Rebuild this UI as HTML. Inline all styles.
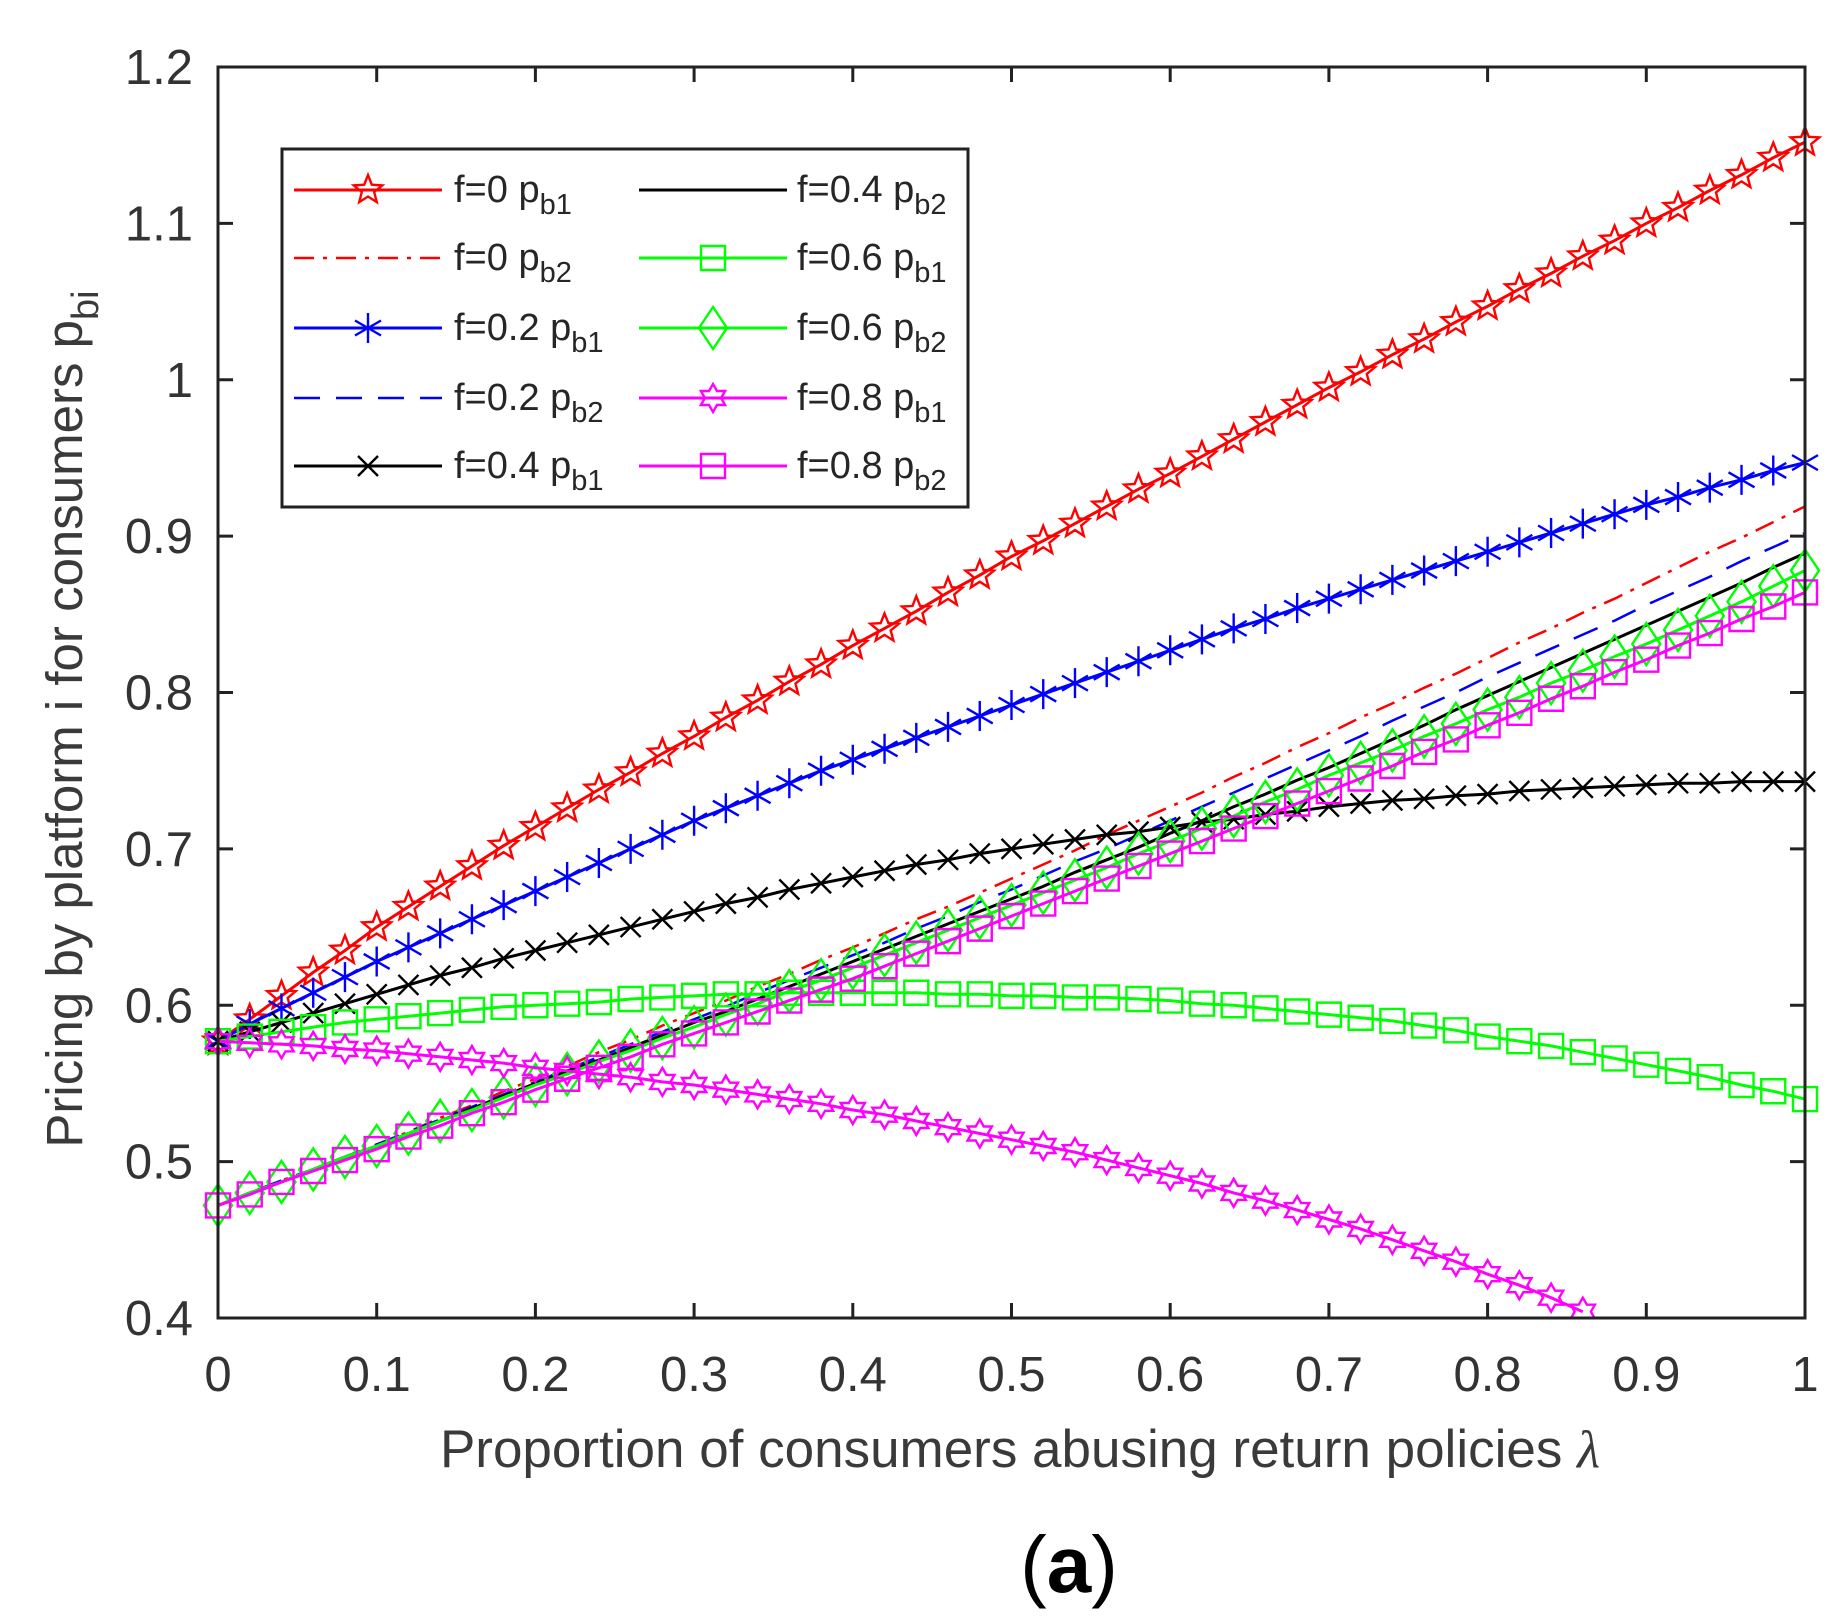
<!DOCTYPE html>
<html><head><meta charset="utf-8">
<style>
html,body{margin:0;padding:0;background:#fff;}
svg{display:block;}
text{font-family:"Liberation Sans",Arial,sans-serif;}
</style></head>
<body>
<svg id="chart" width="1844" height="1622" viewBox="0 0 1844 1622" xmlns="http://www.w3.org/2000/svg">
<g id="gridlayer"></g>
<g id="series"></g>
<g id="axes"></g>
<g id="legend"></g>
<text transform="translate(82,719) rotate(-90)" text-anchor="middle" font-size="51" fill="#3a3a3a">Pricing by platform i for consumers p<tspan font-size="38" dy="16">bi</tspan></text>
<text x="1020" y="1467" text-anchor="middle" font-size="53" fill="#3a3a3a">Proportion of consumers abusing return policies <tspan font-family="Liberation Serif,serif" font-style="italic">λ</tspan></text>
<text x="1069" y="1592" text-anchor="middle" font-size="80" font-family="Liberation Serif,serif" fill="#000">(<tspan font-weight="bold">a</tspan>)</text>
</svg>
<script>
const xTicks=[0,0.1,0.2,0.3,0.4,0.5,0.6,0.7,0.8,0.9,1];
const xTickLabels=["0","0.1","0.2","0.3","0.4","0.5","0.6","0.7","0.8","0.9","1"];
const yTicks=[0.4,0.5,0.6,0.7,0.8,0.9,1,1.1,1.2];
const yTickLabels=["0.4","0.5","0.6","0.7","0.8","0.9","1","1.1","1.2"];
const lambdaStep=0.02;
const f0_pb1=[0.577,0.591,0.606,0.621,0.635,0.650,0.663,0.676,0.689,0.702,0.714,0.726,0.738,0.749,0.761,0.772,0.784,0.795,0.807,0.818,0.830,0.841,0.852,0.864,0.875,0.887,0.897,0.908,0.919,0.930,0.940,0.951,0.962,0.973,0.984,0.995,1.005,1.016,1.026,1.037,1.047,1.058,1.068,1.079,1.089,1.100,1.110,1.121,1.131,1.142,1.152];
const f0_pb2=[0.472,0.480,0.488,0.495,0.503,0.511,0.519,0.528,0.536,0.545,0.553,0.561,0.570,0.578,0.587,0.595,0.603,0.612,0.620,0.629,0.637,0.646,0.655,0.663,0.672,0.681,0.690,0.699,0.709,0.718,0.727,0.736,0.746,0.755,0.765,0.774,0.784,0.793,0.803,0.812,0.822,0.832,0.841,0.851,0.860,0.870,0.880,0.890,0.899,0.909,0.919];
const f02_pb1=[0.577,0.588,0.598,0.608,0.618,0.628,0.637,0.646,0.655,0.664,0.673,0.682,0.691,0.700,0.709,0.718,0.726,0.734,0.742,0.750,0.757,0.764,0.771,0.778,0.785,0.792,0.799,0.806,0.813,0.820,0.827,0.834,0.841,0.847,0.854,0.860,0.866,0.872,0.878,0.884,0.890,0.896,0.902,0.908,0.914,0.920,0.925,0.931,0.936,0.942,0.947];
const f02_pb2=[0.472,0.480,0.488,0.495,0.503,0.511,0.519,0.527,0.535,0.543,0.551,0.559,0.567,0.575,0.583,0.591,0.599,0.608,0.616,0.624,0.632,0.640,0.649,0.657,0.666,0.674,0.683,0.692,0.700,0.709,0.718,0.727,0.736,0.745,0.754,0.763,0.772,0.782,0.791,0.800,0.810,0.819,0.828,0.837,0.846,0.856,0.865,0.874,0.884,0.893,0.902];
const f04_pb1=[0.577,0.583,0.589,0.595,0.601,0.607,0.613,0.619,0.624,0.630,0.635,0.640,0.645,0.650,0.655,0.660,0.665,0.669,0.674,0.678,0.682,0.686,0.690,0.693,0.697,0.700,0.703,0.706,0.709,0.711,0.714,0.717,0.719,0.722,0.724,0.727,0.729,0.731,0.732,0.734,0.735,0.737,0.738,0.739,0.740,0.741,0.742,0.742,0.743,0.743,0.743];
const f04_pb2=[0.472,0.480,0.487,0.495,0.503,0.510,0.518,0.526,0.534,0.542,0.550,0.558,0.565,0.573,0.581,0.589,0.596,0.604,0.612,0.620,0.628,0.636,0.644,0.652,0.660,0.668,0.676,0.685,0.693,0.701,0.710,0.718,0.727,0.735,0.744,0.752,0.761,0.770,0.779,0.789,0.798,0.807,0.816,0.825,0.834,0.843,0.852,0.861,0.870,0.880,0.889];
const f06_pb1=[0.577,0.580,0.583,0.586,0.589,0.591,0.593,0.595,0.597,0.599,0.600,0.601,0.602,0.604,0.605,0.606,0.607,0.607,0.608,0.608,0.608,0.608,0.608,0.607,0.607,0.606,0.606,0.605,0.605,0.604,0.603,0.601,0.600,0.598,0.596,0.594,0.592,0.590,0.587,0.584,0.580,0.577,0.574,0.570,0.566,0.562,0.558,0.554,0.549,0.545,0.540];
const f06_pb2=[0.472,0.480,0.487,0.495,0.503,0.510,0.518,0.526,0.533,0.541,0.549,0.556,0.564,0.571,0.579,0.586,0.594,0.601,0.609,0.616,0.624,0.632,0.640,0.648,0.656,0.664,0.672,0.680,0.688,0.697,0.705,0.713,0.721,0.730,0.738,0.747,0.755,0.763,0.772,0.780,0.789,0.797,0.806,0.814,0.823,0.831,0.840,0.849,0.858,0.868,0.878];
const f08_pb1=[0.577,0.576,0.575,0.574,0.572,0.571,0.569,0.567,0.565,0.563,0.560,0.558,0.556,0.554,0.551,0.549,0.546,0.543,0.540,0.537,0.533,0.530,0.526,0.522,0.518,0.514,0.510,0.506,0.501,0.496,0.491,0.486,0.480,0.475,0.469,0.463,0.457,0.450,0.443,0.436,0.428,0.421,0.413,0.404];
const f08_pb2=[0.472,0.479,0.487,0.494,0.501,0.508,0.516,0.523,0.531,0.538,0.546,0.553,0.560,0.567,0.575,0.582,0.589,0.596,0.603,0.610,0.617,0.625,0.633,0.641,0.649,0.657,0.665,0.673,0.681,0.689,0.697,0.705,0.713,0.721,0.729,0.737,0.745,0.753,0.762,0.770,0.779,0.787,0.796,0.804,0.813,0.821,0.830,0.838,0.847,0.855,0.864];

const NS="http://www.w3.org/2000/svg";
const L=218,R=1805,T=67,B=1318;
const xS=v=>L+(R-L)*v;
const yS=v=>B-(B-T)*(v-0.4)/0.8;
function mk(tag,attrs,parent){const e=document.createElementNS(NS,tag);for(const k in attrs)e.setAttribute(k,attrs[k]);parent.appendChild(e);return e;}

const seriesDefs=[
 {name:"f0-pb1",data:f0_pb1,color:"#ff0000",dash:null,marker:"star",label:"f=0 ",sub:"b1"},
 {name:"f0-pb2",data:f0_pb2,color:"#ff0000",dash:"20 9 4 9",marker:null,label:"f=0 ",sub:"b2",thin:true},
 {name:"f02-pb1",data:f02_pb1,color:"#0000ff",dash:null,marker:"asterisk",label:"f=0.2 ",sub:"b1"},
 {name:"f02-pb2",data:f02_pb2,color:"#0000ff",dash:"26 16",marker:null,label:"f=0.2 ",sub:"b2",thin:true},
 {name:"f04-pb1",data:f04_pb1,color:"#000000",dash:null,marker:"x",label:"f=0.4 ",sub:"b1"},
 {name:"f04-pb2",data:f04_pb2,color:"#000000",dash:null,marker:null,label:"f=0.4 ",sub:"b2"},
 {name:"f06-pb1",data:f06_pb1,color:"#00ff00",dash:null,marker:"square",label:"f=0.6 ",sub:"b1"},
 {name:"f06-pb2",data:f06_pb2,color:"#00ff00",dash:null,marker:"diamond",label:"f=0.6 ",sub:"b2"},
 {name:"f08-pb1",data:f08_pb1,color:"#ff00ff",dash:null,marker:"hexagram",label:"f=0.8 ",sub:"b1"},
 {name:"f08-pb2",data:f08_pb2,color:"#ff00ff",dash:null,marker:"square",label:"f=0.8 ",sub:"b2"}
];

function markerPath(type,cx,cy){
 let d="";
 if(type==="star"){const ro=15,ri=6.5;for(let i=0;i<10;i++){const r=i%2?ri:ro;const a=-Math.PI/2+i*Math.PI/5;d+=(i?"L":"M")+(cx+r*Math.cos(a)).toFixed(1)+" "+(cy+r*Math.sin(a)).toFixed(1);}d+="Z";}
 else if(type==="hexagram"){const ro=14,ri=8.1;for(let i=0;i<12;i++){const r=i%2?ri:ro;const a=-Math.PI/2+i*Math.PI/6;d+=(i?"L":"M")+(cx+r*Math.cos(a)).toFixed(1)+" "+(cy+r*Math.sin(a)).toFixed(1);}d+="Z";}
 else if(type==="square"){const s=12;d=`M${cx-s} ${cy-s}H${cx+s}V${cy+s}H${cx-s}Z`;}
 else if(type==="diamond"){d=`M${cx} ${cy-21}L${cx+14} ${cy}L${cx} ${cy+21}L${cx-14} ${cy}Z`;}
 else if(type==="x"){const s=10;d=`M${cx-s} ${cy-s}L${cx+s} ${cy+s}M${cx-s} ${cy+s}L${cx+s} ${cy-s}`;}
 else if(type==="asterisk"){const s=15;d=`M${cx} ${cy-s}V${cy+s}M${cx-13} ${cy-7.5}L${cx+13} ${cy+7.5}M${cx-13} ${cy+7.5}L${cx+13} ${cy-7.5}`;}
 return d;
}

const defs=mk("defs",{},document.getElementById("chart"));
const cp=mk("clipPath",{id:"plotclip"},defs);
mk("rect",{x:L-20,y:T,width:R-L+40,height:B-T},cp);

const sLayer=document.getElementById("series");
sLayer.setAttribute("clip-path","url(#plotclip)");
seriesDefs.forEach(s=>{
 const g=mk("g",{},sLayer);
 
 
 const pts=s.data.map((v,i)=>xS(i*lambdaStep).toFixed(1)+","+yS(v).toFixed(1)).join(" ");
 const pl=mk("polyline",{points:pts,fill:"none",stroke:s.color,"stroke-width":s.thin?2.5:3},g);
 if(s.dash)pl.setAttribute("stroke-dasharray",s.dash);
 
 
 if(s.marker){
  let d="";
  s.data.forEach((v,i)=>{d+=markerPath(s.marker,xS(i*lambdaStep),yS(v));});
  const mp=mk("path",{d:d,fill:"none",stroke:s.color,"stroke-width":2.4},g);
  
  
 }
});

const ax=document.getElementById("axes");
const box=mk("rect",{x:L,y:T,width:R-L,height:B-T,fill:"none",stroke:"#222","stroke-width":3},ax);


xTicks.forEach((v,i)=>{
 const x=xS(v);
 mk("line",{x1:x,y1:B,x2:x,y2:B-15,stroke:"#222","stroke-width":3},ax);
 mk("line",{x1:x,y1:T,x2:x,y2:T+15,stroke:"#222","stroke-width":3},ax);
 const t=mk("text",{x:x,y:B+73,"text-anchor":"middle","font-size":49,fill:"#333"},ax);
 t.textContent=xTickLabels[i];
 
 
});
yTicks.forEach((v,i)=>{
 const y=yS(v);
 mk("line",{x1:L,y1:y,x2:L+15,y2:y,stroke:"#222","stroke-width":3},ax);
 mk("line",{x1:R,y1:y,x2:R-15,y2:y,stroke:"#222","stroke-width":3},ax);
 const t=mk("text",{x:193,y:y+17,"text-anchor":"end","font-size":49,fill:"#333"},ax);
 t.textContent=yTickLabels[i];
 
 
});

const lg=document.getElementById("legend");
const lb=mk("rect",{x:282,y:149,width:686,height:358,fill:"#fff",stroke:"#222","stroke-width":3},lg);


const rowsY=[190,258,328,398,466];
seriesDefs.forEach((s,i)=>{
 const col=i<5?0:1,row=i%5;
 const x0=col?639:294,x1=col?787:442,mx=col?713:368,tx=col?797:454,y=rowsY[row];
 const g=mk("g",{},lg);
 
 
 const ln=mk("line",{x1:x0,y1:y,x2:x1,y2:y,stroke:s.color,"stroke-width":s.thin?2.5:3},g);
 if(s.dash)ln.setAttribute("stroke-dasharray",s.dash);
 if(s.marker)mk("path",{d:markerPath(s.marker,mx,y),fill:"none",stroke:s.color,"stroke-width":2.4},g);
 const t=mk("text",{x:tx,y:y+12,"font-size":38,fill:"#262626"},g);
 t.textContent=s.label+"p";
 const ts=mk("tspan",{"font-size":29,dy:12},t);
 ts.textContent=s.sub;
});
</script>
</body></html>
